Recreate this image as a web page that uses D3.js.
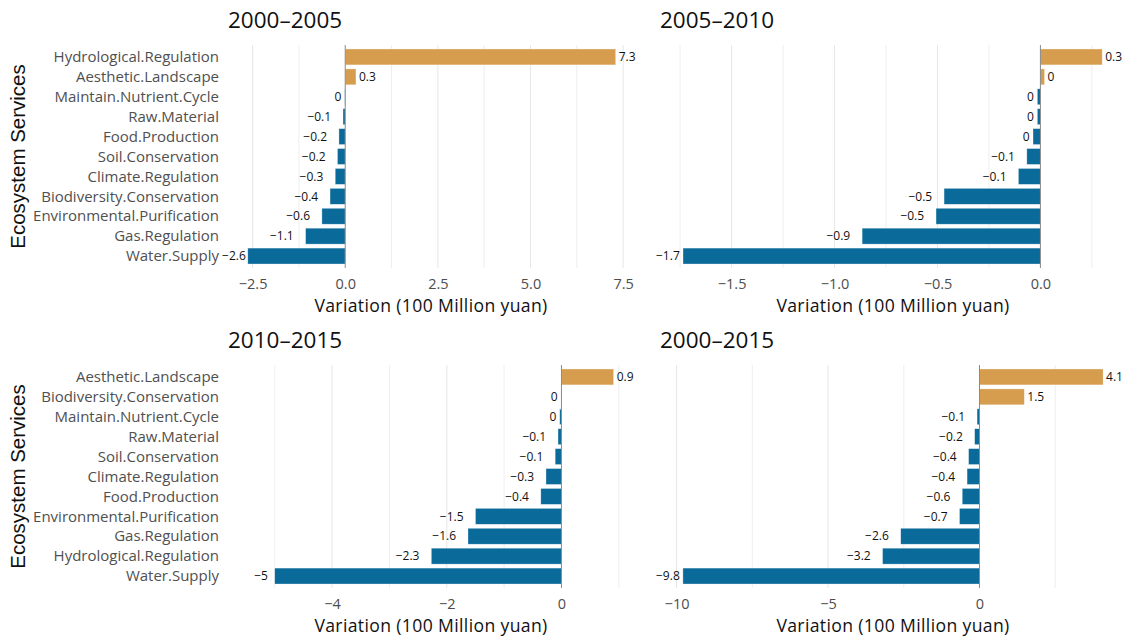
<!DOCTYPE html>
<html>
<head>
<meta charset="utf-8">
<script src="https://cdn.jsdelivr.net/npm/d3@7"></script>
<style>
  html, body { margin: 0; padding: 0; background: #fff; }
  svg text { font-family: "Open Sans", "Noto Sans", sans-serif; }
</style>
</head>
<body>
<svg id="chart" width="1126" height="636"></svg>
<script>
// Change in ecosystem service value per period (100 million yuan), sorted by change
const periods = ["2000–2005", "2005–2010", "2010–2015", "2000–2015"];

const services0005 = [
  "Hydrological.Regulation", "Aesthetic.Landscape", "Maintain.Nutrient.Cycle",
  "Raw.Material", "Food.Production", "Soil.Conservation", "Climate.Regulation",
  "Biodiversity.Conservation", "Environmental.Purification", "Gas.Regulation", "Water.Supply"
];
const change0005 = [7.3, 0.29, -0.01, -0.06, -0.17, -0.21, -0.27, -0.41, -0.63, -1.07, -2.63];

// right-hand panels show no category names, bars are listed by rank
const change0510 = [0.3, 0.02, -0.015, -0.015, -0.036, -0.066, -0.107, -0.468, -0.507, -0.866, -1.736];

const services1015 = [
  "Aesthetic.Landscape", "Biodiversity.Conservation", "Maintain.Nutrient.Cycle",
  "Raw.Material", "Soil.Conservation", "Climate.Regulation", "Food.Production",
  "Environmental.Purification", "Gas.Regulation", "Hydrological.Regulation", "Water.Supply"
];
const change1015 = [0.91, -0.005, -0.03, -0.06, -0.11, -0.27, -0.36, -1.5, -1.63, -2.27, -5];

const change0015 = [4.08, 1.48, -0.08, -0.16, -0.36, -0.41, -0.57, -0.66, -2.6, -3.2, -9.79];

// x-axis limits, labelled ticks and minor gridlines for each panel
const limits0005 = [-3.11, 7.74];
const ticks0005 = [-2.5, 0, 2.5, 5, 7.5];
const minor0005 = [-1.25, 1.25, 3.75, 6.25];

const limits0510 = [-1.838, 0.406];
const ticks0510 = [-1.5, -1, -0.5, 0];
const minor0510 = [-1.75, -1.25, -0.75, -0.25, 0.25];

const limits1015 = [-5.78, 1.23];
const ticks1015 = [-4, -2, 0];
const minor1015 = [-5, -3, -1, 1];

const limits0015 = [-10.48, 4.77];
const ticks0015 = [-10, -5, 0];
const minor0015 = [-7.5, -2.5, 2.5];

const xTitle = "Variation (100 Million yuan)";
const yTitle = "Ecosystem Services";

const panels = [
  { title: periods[0], names: services0005, values: change0005, limits: limits0005, ticks: ticks0005, minor: minor0005, fmt: ".1f", col: 0, row: 0 },
  { title: periods[1], names: null, values: change0510, limits: limits0510, ticks: ticks0510, minor: minor0510, fmt: ".1f", col: 1, row: 0 },
  { title: periods[2], names: services1015, values: change1015, limits: limits1015, ticks: ticks1015, minor: minor1015, fmt: "d", col: 0, row: 1 },
  { title: periods[3], names: null, values: change0015, limits: limits0015, ticks: ticks0015, minor: minor0015, fmt: "d", col: 1, row: 1 }
];

const cols = [{ x0: 230, x1: 632 }, { x0: 662, x1: 1124 }];
const rows = [{ y0: 45, y1: 268 }, { y0: 365, y1: 588 }];

const colorUp = "#d69d4e";
const colorDown = "#0a6a99";
const labelFmt = d3.format(".1~f");

const svg = d3.select("#chart");
svg.append("rect").attr("width", 1126).attr("height", 636).attr("fill", "#fff");

panels.forEach(p => {
  const { x0, x1 } = cols[p.col];
  const { y0, y1 } = rows[p.row];
  const g = svg.append("g");

  const x = d3.scaleLinear().domain(p.limits).range([x0, x1]);
  const keys = p.names ? p.names : d3.range(p.values.length);
  const y = d3.scaleBand().domain(keys).range([y0, y1]).paddingInner(0.2).paddingOuter(0.2);
  const data = p.values.map((v, i) => ({ key: keys[i], value: v }));

  // gridlines
  g.selectAll("line.minor").data(p.minor).join("line")
    .attr("class", "minor")
    .attr("x1", d => x(d)).attr("x2", d => x(d))
    .attr("y1", y0).attr("y2", y1)
    .attr("stroke", "#ececec").attr("stroke-width", 0.9);
  g.selectAll("line.major").data(p.ticks.filter(t => t !== 0)).join("line")
    .attr("class", "major")
    .attr("x1", d => x(d)).attr("x2", d => x(d))
    .attr("y1", y0).attr("y2", y1)
    .attr("stroke", "#e8e8e8").attr("stroke-width", 1.1);

  // bars
  g.selectAll("rect.bar").data(data).join("rect")
    .attr("class", "bar")
    .attr("x", d => Math.min(x(0), x(d.value)))
    .attr("width", d => Math.abs(x(d.value) - x(0)))
    .attr("y", d => y(d.key))
    .attr("height", y.bandwidth())
    .attr("fill", d => d.value > 0 ? colorUp : colorDown)
    .attr("stroke", "rgba(255,255,255,0.55)")
    .attr("stroke-width", 0.6);

  // zero reference line
  g.append("line")
    .attr("x1", x(0)).attr("x2", x(0))
    .attr("y1", y0).attr("y2", y1)
    .attr("stroke", "#8a8a8a").attr("stroke-width", 1);

  // value labels at the bar ends
  const labels = g.selectAll("text.value").data(data).join("text")
    .attr("class", "value")
    .attr("y", d => y(d.key) + y.bandwidth() / 2)
    .attr("dy", "0.35em")
    .style("font-size", "12px")
    .attr("fill", "#111")
    .text(d => labelFmt(d.value));
  labels.each(function(d) {
    const w = this.getComputedTextLength();
    if (d.value > 0) {
      d3.select(this).attr("text-anchor", "start").attr("x", x(d.value) + 3);
    } else {
      // keep the label clear of the category names on the left
      const right = Math.max(x(d.value) - 0.5 * w, x0 - 6 + w);
      d3.select(this).attr("text-anchor", "end").attr("x", Math.min(right, x(d.value) - 2));
    }
  });

  // x axis
  const axis = d3.axisBottom(x).tickValues(p.ticks).tickFormat(d3.format(p.fmt)).tickSize(0).tickPadding(0);
  const ax = g.append("g").attr("transform", `translate(0,${y1 + 21})`).call(axis);
  ax.select(".domain").remove();
  ax.selectAll("text").attr("fill", "#4d4d4d").attr("dy", 0)
    .style("font-size", "14.5px")
    .style("font-family", "'Open Sans', sans-serif");

  g.append("text")
    .attr("x", (x0 + x1) / 2).attr("y", y1 + 44)
    .attr("text-anchor", "middle")
    .style("font-size", "17.6px")
    .style("letter-spacing", "0.36px")
    .attr("fill", "#111")
    .text(xTitle);

  // y axis (category names)
  if (p.names) {
    g.selectAll("text.cat").data(p.names).join("text")
      .attr("class", "cat")
      .attr("x", x0 - 11)
      .attr("y", d => y(d) + y.bandwidth() / 2)
      .attr("dy", "0.35em")
      .attr("text-anchor", "end")
      .style("font-size", "15px")
      .attr("fill", "#505050")
      .text(d => d);
    g.append("text")
      .attr("transform", `translate(${25},${(y0 + y1) / 2}) rotate(-90)`)
      .attr("text-anchor", "middle")
      .style("font-family", "'Liberation Sans', Arial, sans-serif")
      .style("font-size", "20.5px")
      .attr("fill", "#111")
      .text(yTitle);
  }

  // panel title
  g.append("text")
    .attr("x", x0 - 2).attr("y", y0 - 17)
    .style("font-size", "22.5px")
    .attr("fill", "#111")
    .text(p.title);
});
</script>
</body>
</html>
